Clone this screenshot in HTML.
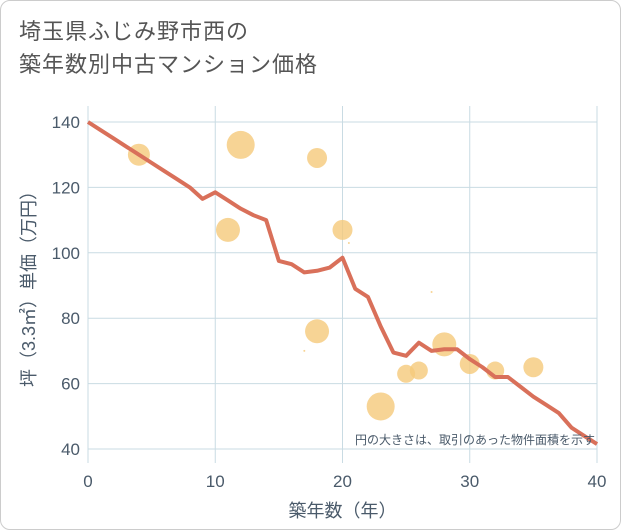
<!DOCTYPE html>
<html><head><meta charset="utf-8"><style>
body{margin:0;background:#fff;}
#wrap{position:relative;width:619px;height:528px;border:1px solid #ccc;border-radius:10px;overflow:hidden;font-family:"Liberation Sans","Noto Sans CJK JP",sans-serif;}
#title{position:absolute;left:18px;top:14px;font-size:22px;line-height:33px;color:#555;letter-spacing:1px;}
svg{position:absolute;left:0;top:0;}
</style></head><body>
<div id="wrap">
<div id="title">埼玉県ふじみ野市西の<br>築年数別中古マンション価格</div>
<svg id="chart" width="621" height="530"></svg>
</div>
<script>
const lineX=[0,1,2,3,4,5,6,7,8,9,10,11,12,13,14,15,16,17,18,19,20,21,22,23,24,25,26,27,28,29,30,31,32,33,34,35,36,37,38,39,40];
const lineY=[140,137.5,135,132.5,130,127.5,125,122.5,120,116.5,118.5,116,113.5,111.5,110,97.5,96.5,94,94.5,95.5,98.5,89,86.5,77.5,69.5,68.5,72.5,70,70.5,70.5,67.5,65,62,62,59,56,53.5,51,46.5,44,41.5];
const bubX=[4,12,11,18,20,18,23,25,26,28,30,32,35,20.5,17,27];
const bubY=[130,133,107,129,107,76,53,63,64,72,66,64,65,103,70,88];
const bubR=[11,14,12,10,10,12,14,9,9,12,10,9,10,1,1,1];
const xTicks=[0,10,20,30,40];
const yTicks=[40,60,80,100,120,140];
const L=87,R=596,T=105,B=462;
const sx=v=>L+(v-0)/40*(R-L);
const sy=v=>448+(40-v)*(448-121)/100;
const svg=document.getElementById('chart');
const NS='http://www.w3.org/2000/svg';
function mk(t,a){const e=document.createElementNS(NS,t);for(const k in a)e.setAttribute(k,a[k]);svg.appendChild(e);return e;}
let bg=mk('rect',{x:L,y:T,width:R-L,height:B-T,fill:'#fff'});


xTicks.forEach(v=>{
 const g=mk('line',{x1:sx(v),x2:sx(v),y1:T,y2:B,stroke:'#c9dbe3','stroke-width':1});
 
 
 const t=mk('text',{x:sx(v),y:B+24,'text-anchor':'middle','font-size':17,fill:'#4a5a6a'});
 t.textContent=v;
 
 
});
yTicks.forEach(v=>{
 const g=mk('line',{x1:L,x2:R,y1:sy(v),y2:sy(v),stroke:'#c9dbe3','stroke-width':1});
 
 
 const t=mk('text',{x:L-8,y:sy(v)+6,'text-anchor':'end','font-size':17,fill:'#4a5a6a'});
 t.textContent=v;
 
 
});
bubX.forEach((x,i)=>{
 const c=mk('circle',{cx:sx(x),cy:sy(bubY[i]),r:bubR[i],fill:'#f5c97a','fill-opacity':0.8});
 
 
});
const p=mk('polyline',{points:lineX.map((x,i)=>sx(x)+','+sy(lineY[i])).join(' '),fill:'none',stroke:'#d9705a','stroke-width':4,'stroke-linejoin':'round'});


const n=mk('text',{x:R-2,y:443,'text-anchor':'end','font-size':12,fill:'#4a5a6a'});
n.textContent='円の大きさは、取引のあった物件面積を示す';


const xt=mk('text',{x:(L+R)/2,y:B+54,'text-anchor':'middle','font-size':18,fill:'#4a5a6a'});
xt.textContent='築年数（年）';


const yt=mk('text',{x:0,y:0,'text-anchor':'middle','font-size':18,fill:'#4a5a6a',transform:'translate(34,'+((T+B)/2)+') rotate(-90)'});
yt.textContent='坪（3.3㎡）単価（万円）';


</script>
</body></html>
